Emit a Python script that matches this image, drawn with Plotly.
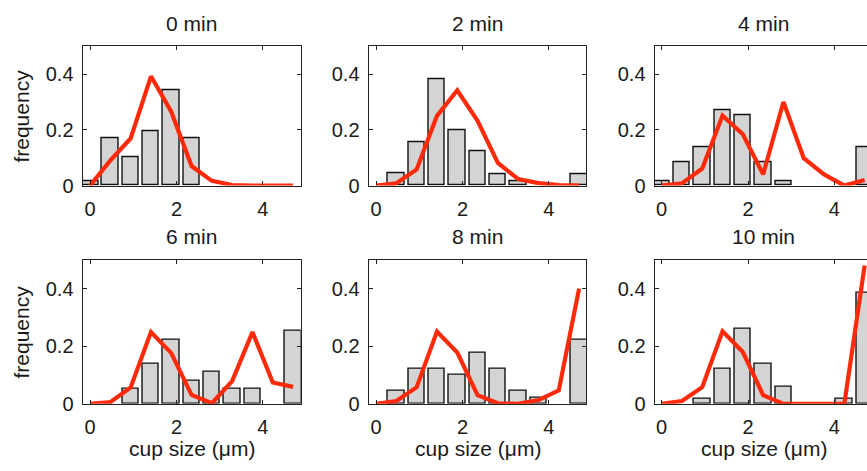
import plotly.graph_objects as go

# ---------------- data ----------------
bin_centers = [0.0, 0.47, 0.94, 1.41, 1.88, 2.35, 2.82, 3.29, 3.76, 4.23, 4.70]
panel_titles = ["0 min", "2 min", "4 min", "6 min", "8 min", "10 min"]

hist_0min = [0.017, 0.169, 0.102, 0.194, 0.341, 0.169, 0.0, 0.0, 0.0, 0.0, 0.0]
fit_0min = [0.0, 0.09, 0.169, 0.392, 0.265, 0.07, 0.017, 0.002, 0.0, 0.0, 0.0]

hist_2min = [0.0, 0.043, 0.157, 0.383, 0.199, 0.122, 0.041, 0.017, 0.0, 0.0, 0.041]
fit_2min = [0.0, 0.008, 0.058, 0.25, 0.342, 0.232, 0.081, 0.023, 0.009, 0.002, 0.0]

hist_4min = [0.017, 0.084, 0.138, 0.271, 0.254, 0.084, 0.017, 0.0, 0.0, 0.0, 0.138]
fit_4min = [0.0, 0.008, 0.061, 0.251, 0.184, 0.04, 0.30, 0.098, 0.04, 0.0, 0.02]

hist_6min = [0.0, 0.0, 0.051, 0.139, 0.223, 0.079, 0.11, 0.051, 0.051, 0.0, 0.253]
fit_6min = [0.0, 0.006, 0.057, 0.249, 0.176, 0.031, 0.002, 0.079, 0.249, 0.074, 0.059]

hist_8min = [0.0, 0.047, 0.123, 0.123, 0.10, 0.176, 0.123, 0.047, 0.022, 0.0, 0.224]
fit_8min = [0.0, 0.01, 0.058, 0.251, 0.178, 0.03, 0.002, 0.0, 0.013, 0.047, 0.40]

hist_10min = [0.0, 0.0, 0.017, 0.122, 0.261, 0.139, 0.058, 0.0, 0.0, 0.017, 0.386]
fit_10min = [0.0, 0.01, 0.058, 0.252, 0.18, 0.03, 0.0, 0.0, 0.0, 0.0, 0.48]

x_tick_vals = [0, 2, 4]
y_tick_vals = [0, 0.2, 0.4]
y_tick_text = ["0", "0.2", "0.4"]
x_label = "cup size (\u03bcm)"
y_label = "frequency"

hists = [hist_0min, hist_2min, hist_4min, hist_6min, hist_8min, hist_10min]
fits = [fit_0min, fit_2min, fit_4min, fit_6min, fit_8min, fit_10min]

# ---------------- layout geometry (pixels) ----------------
W, H = 867, 471
col_px = [(82.7, 300.7), (368.7, 586.0), (654.7, 867.0)]
row_px = [(47.3, 190.0), (266.0, 413.5)]
x_lo = [-0.17, -0.17, -0.16]
px_per_unit = 43.2

FONT = "Liberation Sans, Arial, Helvetica, sans-serif"
TXT = "#1a1a1a"
BAR_FILL = "#d4d4d4"
RED = "#ff2a0a"

fig = go.Figure()
layout = dict(
    width=W, height=H,
    margin=dict(l=0, r=0, t=0, b=0),
    paper_bgcolor="white", plot_bgcolor="white",
    showlegend=False,
    font=dict(family=FONT, color=TXT, size=20),
    bargap=0,
)
annotations = []

for i in range(6):
    r, c = divmod(i, 3)
    n = i + 1
    xa = "x" if n == 1 else f"x{n}"
    ya = "y" if n == 1 else f"y{n}"
    x0p, x1p = col_px[c]
    y0p, y1p = row_px[r]
    xdom = [x0p / W, x1p / W]
    ydom = [1 - y1p / H, 1 - y0p / H]
    lo = x_lo[c]
    hi = lo + (x1p - x0p) / px_per_unit

    bar_y = [v if v > 0 else None for v in hists[i]]
    fig.add_trace(go.Bar(
        x=bin_centers, y=bar_y, width=0.38,
        marker=dict(color=BAR_FILL, line=dict(color="#111111", width=1.4)),
        xaxis=xa, yaxis=ya, hoverinfo="skip",
    ))
    fig.add_trace(go.Scatter(
        x=bin_centers, y=fits[i], mode="lines",
        line=dict(color=RED, width=4.2),
        xaxis=xa, yaxis=ya, hoverinfo="skip", cliponaxis=True,
    ))

    key_x = "xaxis" if n == 1 else f"xaxis{n}"
    key_y = "yaxis" if n == 1 else f"yaxis{n}"
    layout[key_x] = dict(
        domain=xdom, anchor=ya, range=[lo, hi],
        tickvals=x_tick_vals, ticktext=[str(v) for v in x_tick_vals],
        ticks="inside", ticklen=4, tickwidth=1.2, tickcolor="#222",
        showline=True, linecolor="#222", linewidth=1.3, mirror="allticks",
        showgrid=False, zeroline=False,
        tickfont=dict(size=20, family=FONT, color=TXT),
        ticklabelstandoff=5,
        fixedrange=True,
    )
    layout[key_y] = dict(
        domain=ydom, anchor=xa, range=[0, 0.5],
        tickvals=y_tick_vals, ticktext=y_tick_text,
        ticks="inside", ticklen=4, tickwidth=1.2, tickcolor="#222",
        showline=True, linecolor="#222", linewidth=1.3,
        mirror=("allticks" if c < 2 else False),
        showgrid=False, zeroline=False,
        tickfont=dict(size=20, family=FONT, color=TXT),
        ticklabelstandoff=4,
        fixedrange=True,
    )

    # panel title
    annotations.append(dict(
        text=panel_titles[i], xref="paper", yref="paper",
        x=((x0p + x1p) / 2) / W if c < 2 else ((x0p + x0p + 218) / 2) / W,
        y=1 - (y0p - 23.5) / H,
        xanchor="center", yanchor="middle", showarrow=False,
        font=dict(size=21, family=FONT, color=TXT),
    ))
    # y label on left column
    if c == 0:
        annotations.append(dict(
            text=y_label, xref="paper", yref="paper",
            x=21.7 / W, y=1 - ((y0p + y1p) / 2) / H,
            xanchor="center", yanchor="middle", showarrow=False,
            textangle=-90,
            font=dict(size=21, family=FONT, color=TXT),
        ))
    # x label on bottom row
    if r == 1:
        annotations.append(dict(
            text=x_label, xref="paper", yref="paper",
            x=((x0p + x0p + 218) / 2) / W, y=1 - 459.3 / H,
            xanchor="center", yanchor="middle", showarrow=False,
            font=dict(size=21, family=FONT, color=TXT),
        ))

layout["annotations"] = annotations
fig.update_layout(**layout)
fig.write_html("out.html")
